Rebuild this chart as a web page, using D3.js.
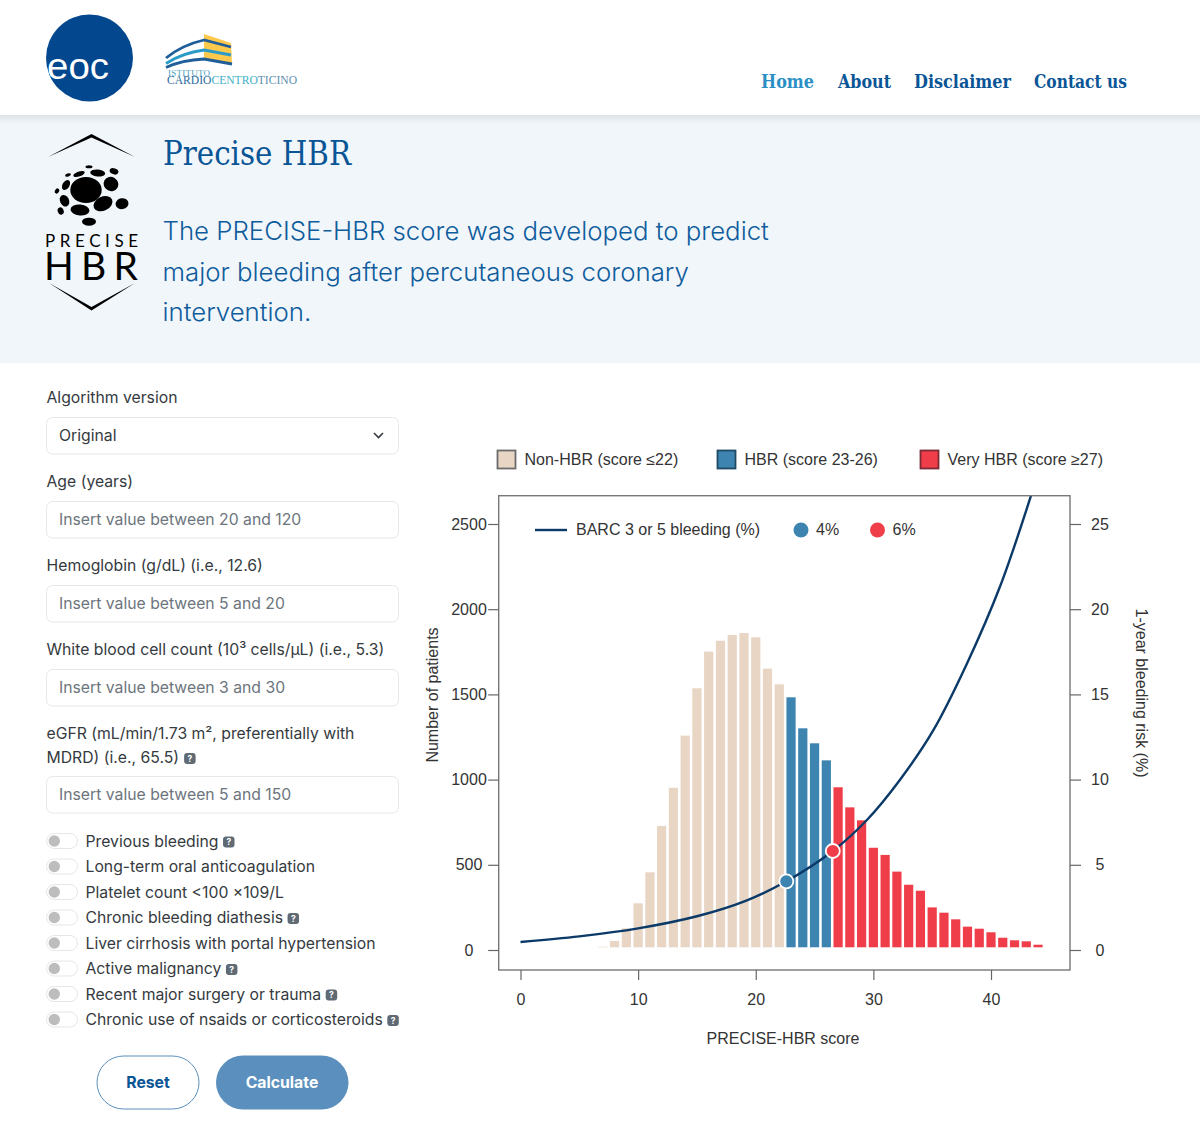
<!DOCTYPE html>
<html>
<head>
<meta charset="utf-8">
<script src="https://cdn.jsdelivr.net/npm/d3@7"></script>
<style>
  html, body { margin: 0; padding: 0; background: #fff; overflow: hidden; }
  svg { display: block; }
  .chart text { font-family: "Liberation Sans", Arial, sans-serif; fill: #333; }
  .form text { font-family: Inter, sans-serif; font-size: 15.75px; fill: #343a40; }
</style>
</head>
<body>
<svg id="page" width="1200" height="1137" viewBox="0 0 1200 1137"></svg>
<script>
'use strict';

// chart values
const scoreBins = [7, 8, 9, 10, 11, 12, 13, 14, 15, 16, 17, 18, 19, 20, 21, 22, 23, 24, 25, 26,
  27, 28, 29, 30, 31, 32, 33, 34, 35, 36, 37, 38, 39, 40, 41, 42, 43, 44];
const patientCounts = [19, 53, 127, 274, 456, 728, 952, 1258, 1536, 1751, 1815, 1849, 1860, 1835, 1651, 1559,
  1483, 1301, 1213, 1113,
  955, 837, 761, 600, 558, 460, 383, 348, 250, 219, 180, 137, 125, 104, 72, 57, 51, 31];
const curveScores = [0, 5, 10, 15, 19.2, 22.6, 26.55, 29.45, 32.25, 35.1, 37.95, 40.75, 43.4];
const curveRisks = [0.47, 0.8, 1.27, 1.98, 2.9, 4.03, 5.81, 7.63, 9.98, 12.9, 16.8, 21.3, 26.66];
const markerScores = [22.6, 26.55];
const markerRisks = [4.03, 5.81];
const markerLabels = ['4%', '6%'];
const xTicks = [0, 10, 20, 30, 40];
const leftTicks = [0, 500, 1000, 1500, 2000, 2500];
const rightTicks = [0, 5, 10, 15, 20, 25];
const groupLabels = ['Non-HBR (score ≤22)', 'HBR (score 23-26)', 'Very HBR (score ≥27)'];

// page text
const navItems = ['Home', 'About', 'Disclaimer', 'Contact us'];
const introLines = ['The PRECISE-HBR score was developed to predict', 'major bleeding after percutaneous coronary', 'intervention.'];
const fieldPlaceholders = ['Original', 'Insert value between 20 and 120', 'Insert value between 5 and 20',
  'Insert value between 3 and 30', 'Insert value between 5 and 150'];
const toggleLabels = ['Previous bleeding', 'Long-term oral anticoagulation', 'Platelet count <100 ×109/L',
  'Chronic bleeding diathesis', 'Liver cirrhosis with portal hypertension', 'Active malignancy',
  'Recent major surgery or trauma', 'Chronic use of nsaids or corticosteroids'];
const toggleHelp = [true, false, false, true, false, true, true, true];

const beige = '#e8d5c4', blue = '#3d84b0', red = '#ef3e49', navy = '#0b3a68';
const brand = '#0a5596';

const svg = d3.select('#page');

// ---- header
const defs = svg.append('defs');
const shadow = defs.append('linearGradient').attr('id', 'headShadow').attr('x1', 0).attr('x2', 0).attr('y1', 0).attr('y2', 1);
shadow.append('stop').attr('offset', 0).attr('stop-color', '#dde2e7');
shadow.append('stop').attr('offset', 1).attr('stop-color', '#f1f6fb');
defs.append('clipPath').attr('id', 'eocClip').append('circle').attr('cx', 89.5).attr('cy', 58).attr('r', 43.5);

svg.append('rect').attr('y', 115).attr('width', 1200).attr('height', 248).attr('fill', '#f1f6fb');
svg.append('rect').attr('y', 115).attr('width', 1200).attr('height', 9).attr('fill', 'url(#headShadow)');

const eoc = svg.append('g');
eoc.append('circle').attr('cx', 89.5).attr('cy', 58).attr('r', 43.5).attr('fill', '#03478e');
eoc.append('text').attr('x', 47).attr('y', 79).attr('clip-path', 'url(#eocClip)')
  .attr('font-family', '"Liberation Sans"').attr('font-size', 37).attr('fill', '#fff')
  .attr('textLength', 62).attr('lengthAdjust', 'spacingAndGlyphs').text('eoc');

const cardio = svg.append('g');
cardio.append('path').attr('d', 'M204,34 L231,43 L232,64 L204,59 Z').attr('fill', '#fdc94d');
cardio.selectAll('path.band').data([
  ['M166,58 Q182,45 204,40 L231,47', '#1f5e99'],
  ['M166,63.5 Q182,53 204,50 L231,55', '#2a9bc9'],
  ['M166,67.5 Q182,60 204,59 L232,64', '#1f5e99']
]).join('path').attr('class', 'band')
  .attr('d', d => d[0]).attr('fill', 'none').attr('stroke', d => d[1]).attr('stroke-width', 2.8);
cardio.append('text').attr('x', 168).attr('y', 76).attr('font-family', '"Liberation Serif"').attr('font-size', 9)
  .attr('fill', '#4d9cc0').attr('textLength', 42).text('ISTITUTO');
const cardioText = cardio.append('text').attr('x', 167).attr('y', 83.5).attr('font-family', '"Liberation Serif"')
  .attr('font-size', 13).attr('textLength', 130).attr('lengthAdjust', 'spacingAndGlyphs');
cardioText.append('tspan').attr('fill', '#2c6b9c').text('CARDIO');
cardioText.append('tspan').attr('fill', '#3fb0c9').text('CENTRO');
cardioText.append('tspan').attr('fill', '#5f8fae').text('TICINO');

const navX = [761, 838, 914, 1034];
const navWidth = [53, 53, 97, 93];
svg.append('g').selectAll('text').data(navItems).join('text')
  .attr('x', (d, i) => navX[i]).attr('y', 88)
  .attr('font-family', '"DejaVu Serif Condensed", "DejaVu Serif", serif').attr('font-weight', 700).attr('font-size', 18.5)
  .attr('textLength', (d, i) => navWidth[i]).attr('lengthAdjust', 'spacingAndGlyphs')
  .attr('fill', (d, i) => i === 0 ? '#2a8fc4' : brand).text(d => d);

// ---- banner
const badge = svg.append('g');
badge.append('path').attr('d', 'M48,157 L91.5,134 L135,157 L91.5,137.5 Z').attr('fill', '#000');
badge.append('path').attr('d', 'M49,283 L91.5,310.5 L135,283 L91.5,307 Z').attr('fill', '#000');
badge.selectAll('ellipse').data([
  [86, 190, 15.7, 13, 0], [111, 184, 7.5, 7, 30], [97.7, 173, 7.5, 3.5, 5], [114, 171.3, 4.5, 3, 20],
  [89, 166.7, 3.5, 1.5, 0], [79, 174, 6, 2.5, -20], [68, 175, 3, 1.5, -20], [66, 185, 3.5, 5.5, 30],
  [57, 191, 2, 2.7, 30], [64.5, 200.7, 4.5, 6, -25], [60.7, 211, 3, 3.7, -20], [80, 210, 9.5, 5.5, 5],
  [103, 203.7, 10, 7, -25], [122, 203.7, 6.5, 5.5, -10], [89, 221.7, 7, 4, 0]
]).join('ellipse')
  .attr('cx', d => d[0]).attr('cy', d => d[1]).attr('rx', d => d[2]).attr('ry', d => d[3])
  .attr('transform', d => `rotate(${d[4]} ${d[0]} ${d[1]})`).attr('fill', '#000');
badge.append('text').attr('x', 45).attr('y', 247).attr('font-family', 'Lato').attr('font-size', 17)
  .attr('textLength', 93).attr('fill', '#000').text('PRECISE');
badge.append('text').attr('x', 44).attr('y', 279.5).attr('font-family', 'Lato').attr('font-size', 39)
  .attr('textLength', 94).attr('fill', '#000').text('HBR');

svg.append('text').attr('x', 163).attr('y', 165)
  .attr('font-family', '"DejaVu Serif Condensed", "DejaVu Serif", serif').attr('font-size', 33)
  .attr('textLength', 188).attr('lengthAdjust', 'spacingAndGlyphs')
  .attr('fill', brand).text('Precise HBR');

const introY = [240, 281, 321];
svg.append('g').selectAll('text').data(introLines).join('text')
  .attr('x', 162.5).attr('y', (d, i) => introY[i])
  .attr('font-family', 'Inter').attr('font-weight', 300).attr('font-size', 25.8)
  .attr('fill', '#0f5c9c').text(d => d);

// ---- form column
const form = svg.append('g').attr('class', 'form');
const labelRows = [
  ['Algorithm version', 403],
  ['Age (years)', 487],
  ['Hemoglobin (g/dL) (i.e., 12.6)', 571],
  ['White blood cell count (10³ cells/µL) (i.e., 5.3)', 655],
  ['eGFR (mL/min/1.73 m², preferentially with', 739],
  ['MDRD) (i.e., 65.5)', 763]
];
form.selectAll('text.label').data(labelRows).join('text').attr('class', 'label')
  .attr('x', 46.5).attr('y', d => d[1]).text(d => d[0]);

const fieldTop = [417, 501, 585, 669, 776];
form.selectAll('rect.field').data(fieldPlaceholders).join('rect').attr('class', 'field')
  .attr('x', 46.5).attr('y', (d, i) => fieldTop[i] + 0.5).attr('width', 352).attr('height', 36.5).attr('rx', 6)
  .attr('fill', '#fff').attr('stroke', '#e6e8ea');
form.selectAll('text.ph').data(fieldPlaceholders).join('text').attr('class', 'ph')
  .attr('x', 59).attr('y', (d, i) => fieldTop[i] + 24)
  .style('fill', (d, i) => i === 0 ? '#343a40' : '#6c757d').text(d => d);
form.append('path').attr('d', 'M374,433 L378.5,437.5 L383,433').attr('fill', 'none').attr('stroke', '#343a40').attr('stroke-width', 1.6);

function helpIcon(parent, x, cy) {
  parent.append('rect').attr('x', x).attr('y', cy - 5.5).attr('width', 11.5).attr('height', 11).attr('rx', 3).attr('fill', '#5f6a74');
  parent.append('text').attr('x', x + 5.75).attr('y', cy + 3).attr('text-anchor', 'middle')
    .style('font-size', '8.5px').style('font-weight', 700).style('fill', '#fff').text('?');
}

const egfrTail = form.selectAll('text.label').filter(d => d[1] === 763).node().getComputedTextLength();
helpIcon(form, 46.5 + egfrTail + 5, 758.5);

const toggleRow = d3.scaleLinear().domain([0, 7]).range([841, 1019.5]);
toggleLabels.forEach((label, i) => {
  const cy = toggleRow(i);
  const row = form.append('g');
  row.append('rect').attr('x', 46.5).attr('y', cy - 7.5).attr('width', 31).attr('height', 15).attr('rx', 7.5)
    .attr('fill', '#fff').attr('stroke', '#e4e6e8');
  row.append('circle').attr('cx', 54.3).attr('cy', cy).attr('r', 5.7).attr('fill', '#bdbdbd');
  const t = row.append('text').attr('x', 85.5).attr('y', cy + 5.5).text(label);
  if(toggleHelp[i]) { helpIcon(row, 85.5 + t.node().getComputedTextLength() + 4.5, cy + 1); }
});

form.append('rect').attr('x', 97).attr('y', 1056).attr('width', 102).attr('height', 53).attr('rx', 26.5)
  .attr('fill', '#fff').attr('stroke', '#5b90bd');
form.append('text').attr('x', 148).attr('y', 1087.5).attr('text-anchor', 'middle')
  .style('font-weight', 700).style('fill', brand).text('Reset');
form.append('rect').attr('x', 216).attr('y', 1055.5).attr('width', 132.5).attr('height', 54).attr('rx', 27)
  .attr('fill', '#5b90be');
form.append('text').attr('x', 282).attr('y', 1087.5).attr('text-anchor', 'middle')
  .style('font-weight', 700).style('fill', '#fff').text('Calculate');

// ---- chart
const chart = svg.append('g').attr('class', 'chart');
const frame = { left: 498.7, right: 1070, top: 495.7, bottom: 970 };
const x = d3.scaleLinear().domain([0, 40]).range([520.5, 991]);
const yCount = d3.scaleLinear().domain([0, 2500]).range([950, 524]);
const yRisk = d3.scaleLinear().domain([0, 25]).range([950, 524]);
const barColor = d3.scaleThreshold().domain([23, 27]).range([beige, blue, red]);
const barBase = yCount(0) - 2.7; // bars stop just above the zero tick in the original
const barWidth = 9.2;

chart.selectAll('rect.bar').data(scoreBins).join('rect').attr('class', 'bar')
  .attr('x', d => x(d) - barWidth / 2)
  .attr('width', barWidth)
  .attr('y', (d, i) => yCount(patientCounts[i]))
  .attr('height', (d, i) => Math.max(0, barBase - yCount(patientCounts[i])))
  .attr('fill', d => barColor(d));

const curve = d3.line().x(d => x(d[0])).y(d => yRisk(d[1])).curve(d3.curveCatmullRom);
chart.append('path').datum(d3.zip(curveScores, curveRisks))
  .attr('d', curve).attr('fill', 'none').attr('stroke', navy).attr('stroke-width', 2.4);

chart.selectAll('circle.marker').data(markerScores).join('circle').attr('class', 'marker')
  .attr('cx', d => x(d)).attr('cy', (d, i) => yRisk(markerRisks[i])).attr('r', 7)
  .attr('fill', (d, i) => i === 0 ? blue : red).attr('stroke', '#fff').attr('stroke-width', 1.8);

chart.append('rect').attr('x', frame.left).attr('y', frame.top)
  .attr('width', frame.right - frame.left).attr('height', frame.bottom - frame.top)
  .attr('fill', 'none').attr('stroke', '#777').attr('stroke-width', 1.4);

function styleAxis(g, labelX) {
  g.select('.domain').remove();
  g.selectAll('.tick line').attr('stroke', '#666').attr('stroke-width', 1.2);
  g.selectAll('.tick text').attr('font-size', 16).style('font-family', '"Liberation Sans"').attr('fill', '#333');
  if(labelX !== undefined) {
    g.selectAll('.tick text').attr('text-anchor', 'middle').attr('x', labelX);
  }
}

chart.append('g').attr('transform', `translate(0,${frame.bottom})`)
  .call(d3.axisBottom(x).tickValues(xTicks).tickSize(10).tickPadding(14))
  .call(g => styleAxis(g));
chart.append('g').attr('transform', `translate(${frame.left},0)`)
  .call(d3.axisLeft(yCount).tickValues(leftTicks).tickFormat(d3.format('d')).tickSize(10.5))
  .call(g => styleAxis(g, -29.7));
chart.append('g').attr('transform', `translate(${frame.right},0)`)
  .call(d3.axisRight(yRisk).tickValues(rightTicks).tickSize(11))
  .call(g => styleAxis(g, 30));

chart.append('text').attr('x', 783).attr('y', 1043.5).attr('text-anchor', 'middle').attr('font-size', 16).text('PRECISE-HBR score');
chart.append('text').attr('transform', 'translate(437.5,695) rotate(-90)').attr('text-anchor', 'middle').attr('font-size', 16).text('Number of patients');
chart.append('text').attr('transform', 'translate(1136,693) rotate(90)').attr('text-anchor', 'middle').attr('font-size', 16).text('1-year bleeding risk (%)');

// top legend
const legendX = [497.5, 717.5, 920.5];
const legendFill = [beige, blue, red];
const legendStroke = ['#6b6b6b', '#1f4a66', '#7c2a35'];
groupLabels.forEach((label, i) => {
  chart.append('rect').attr('x', legendX[i]).attr('y', 450.5).attr('width', 18).attr('height', 18)
    .attr('fill', legendFill[i]).attr('stroke', legendStroke[i]).attr('stroke-width', 1.8);
  chart.append('text').attr('x', legendX[i] + 27).attr('y', 465).attr('font-size', 16).text(label);
});

// legend inside the frame
chart.append('line').attr('x1', 535).attr('x2', 567).attr('y1', 530).attr('y2', 530).attr('stroke', navy).attr('stroke-width', 2.4);
chart.append('text').attr('x', 576).attr('y', 535).attr('font-size', 16).text('BARC 3 or 5 bleeding (%)');
const keyX = [801, 877.5];
markerLabels.forEach((label, i) => {
  chart.append('circle').attr('cx', keyX[i]).attr('cy', 530).attr('r', 7.5).attr('fill', i === 0 ? blue : red);
  chart.append('text').attr('x', keyX[i] + 15).attr('y', 535).attr('font-size', 16).text(label);
});
</script>
</body>
</html>
